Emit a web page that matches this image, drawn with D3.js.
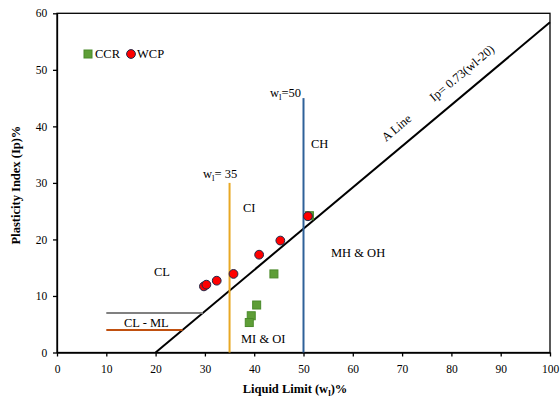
<!DOCTYPE html>
<html><head><meta charset="utf-8">
<script src="https://cdn.jsdelivr.net/npm/d3@7"></script>
<style>body{margin:0;background:#fff}svg{display:block}</style>
</head><body>
<svg id="c" width="560" height="401" font-family="'Liberation Serif', 'Times New Roman', serif"></svg>
<script>
const ccrLL = [44.0, 40.5, 39.4, 39.0, 51.2];
const ccrPI = [13.9, 8.4, 6.5, 5.3, 24.2];
const wcpLL = [29.8, 30.3, 32.4, 35.8, 41.0, 45.3, 50.9];
const wcpPI = [11.7, 12.0, 12.7, 13.9, 17.3, 19.8, 24.1];
const xTicks = [0,10,20,30,40,50,60,70,80,90,100];
const yTicks = [0,10,20,30,40,50,60];

const FF = "'Liberation Serif', 'Times New Roman', serif";
const svg = d3.select("#c");
const x = d3.scaleLinear().domain([0,100]).range([57,550]);
const y = d3.scaleLinear().domain([0,60]).range([352.5,13.3]);

// frame
svg.append("rect").attr("x",x(0)).attr("y",y(60)).attr("width",x(100)-x(0)).attr("height",y(0)-y(60))
  .attr("fill","none").attr("stroke","#000").attr("stroke-width",1.3);

const xa = svg.append("g").attr("transform",`translate(0,${y(0)})`)
  .call(d3.axisBottom(x).tickValues(xTicks).tickSize(4).tickSizeOuter(0));
const ya = svg.append("g").attr("transform",`translate(${x(0)},0)`)
  .call(d3.axisLeft(y).tickValues(yTicks).tickSize(4).tickSizeOuter(0));
[xa,ya].forEach(g=>{
  g.attr("font-family",FF).attr("font-size",11.5);
  g.selectAll("path,line").attr("stroke","#000").attr("stroke-width",1.3);
  g.selectAll("text").attr("fill","#000");
});
xa.selectAll("text").attr("dy","1.15em");
ya.selectAll("text").attr("dx","-0.25em");

// A-line
const aLine = ll => 0.73*(ll-20);
svg.append("line").attr("x1",x(20)).attr("y1",y(0)).attr("x2",x(100)).attr("y2",y(aLine(100)))
  .attr("stroke","#000").attr("stroke-width",2);

// vertical limits
svg.append("line").attr("x1",x(35)).attr("x2",x(35)).attr("y1",y(0)).attr("y2",y(30))
  .attr("stroke","#E8A824").attr("stroke-width",2);
svg.append("line").attr("x1",x(50)).attr("x2",x(50)).attr("y1",y(0)).attr("y2",y(45))
  .attr("stroke","#2F6199").attr("stroke-width",2);

// CL-ML lines
svg.append("line").attr("x1",x(10)).attr("x2",x(20+7/0.73)).attr("y1",y(7)).attr("y2",y(7))
  .attr("stroke","#808080").attr("stroke-width",2);
svg.append("line").attr("x1",x(10)).attr("x2",x(20+4/0.73)).attr("y1",y(4)).attr("y2",y(4))
  .attr("stroke","#C0500F").attr("stroke-width",2);

// labels
function lab(t,px,py,opts={}){
  const e = svg.append("text").attr("x",px).attr("y",py).attr("font-size",opts.fs||12.5)
    .attr("text-anchor",opts.anchor||"start").text(t);
  if(opts.rot) e.attr("transform",`rotate(${opts.rot},${px},${py})`);
  return e;
}
lab("CL",154,276);
lab("CI",243,212);
lab("CH",311,148);
lab("MH & OH",331,257);
lab("MI & OI",241,343);
lab("CL - ML",124,327);
lab("A Line",386,142,{rot:-40});
lab("Ip= 0.73(wl-20)",434,102,{rot:-40});

function wl(px,py,rest){
  const t = svg.append("text").attr("x",px).attr("y",py).attr("font-size",12.5);
  t.append("tspan").text("w");
  t.append("tspan").attr("dy",3).attr("font-size",9).text("l");
  t.append("tspan").attr("dy",-3).text(rest);
}
wl(203,178,"= 35");
wl(270,97,"=50");

// points
svg.append("g").selectAll("rect").data(ccrLL).join("rect")
  .attr("x",(d,i)=>x(d)-4).attr("y",(d,i)=>y(ccrPI[i])-4).attr("width",8).attr("height",8)
  .attr("fill","#5E9E37").attr("stroke","#4A8A2A").attr("stroke-width",1);
svg.append("g").selectAll("circle").data(wcpLL).join("circle")
  .attr("cx",d=>x(d)).attr("cy",(d,i)=>y(wcpPI[i])).attr("r",4.4)
  .attr("fill","#FF0000").attr("stroke","#1F2A4A").attr("stroke-width",1);

// legend
svg.append("rect").attr("x",84).attr("y",50).attr("width",8).attr("height",8)
  .attr("fill","#5E9E37").attr("stroke","#4A8A2A");
svg.append("text").attr("x",95).attr("y",58).attr("font-size",12.5).text("CCR");
svg.append("circle").attr("cx",131).attr("cy",54).attr("r",4.4)
  .attr("fill","#FF0000").attr("stroke","#1F2A4A");
svg.append("text").attr("x",137).attr("y",58).attr("font-size",12.5).text("WCP");

// axis titles
const xt = svg.append("text").attr("x",295).attr("y",393).attr("text-anchor","middle")
  .attr("font-size",12.5).attr("font-weight","bold");
xt.append("tspan").text("Liquid Limit (w");
xt.append("tspan").attr("dy",3).attr("font-size",9).text("l");
xt.append("tspan").attr("dy",-3).text(")%");
svg.append("text").attr("transform","translate(20,185) rotate(-90)").attr("text-anchor","middle")
  .attr("font-size",12.5).attr("font-weight","bold").text("Plasticity Index (Ip)%");
</script>
</body></html>
